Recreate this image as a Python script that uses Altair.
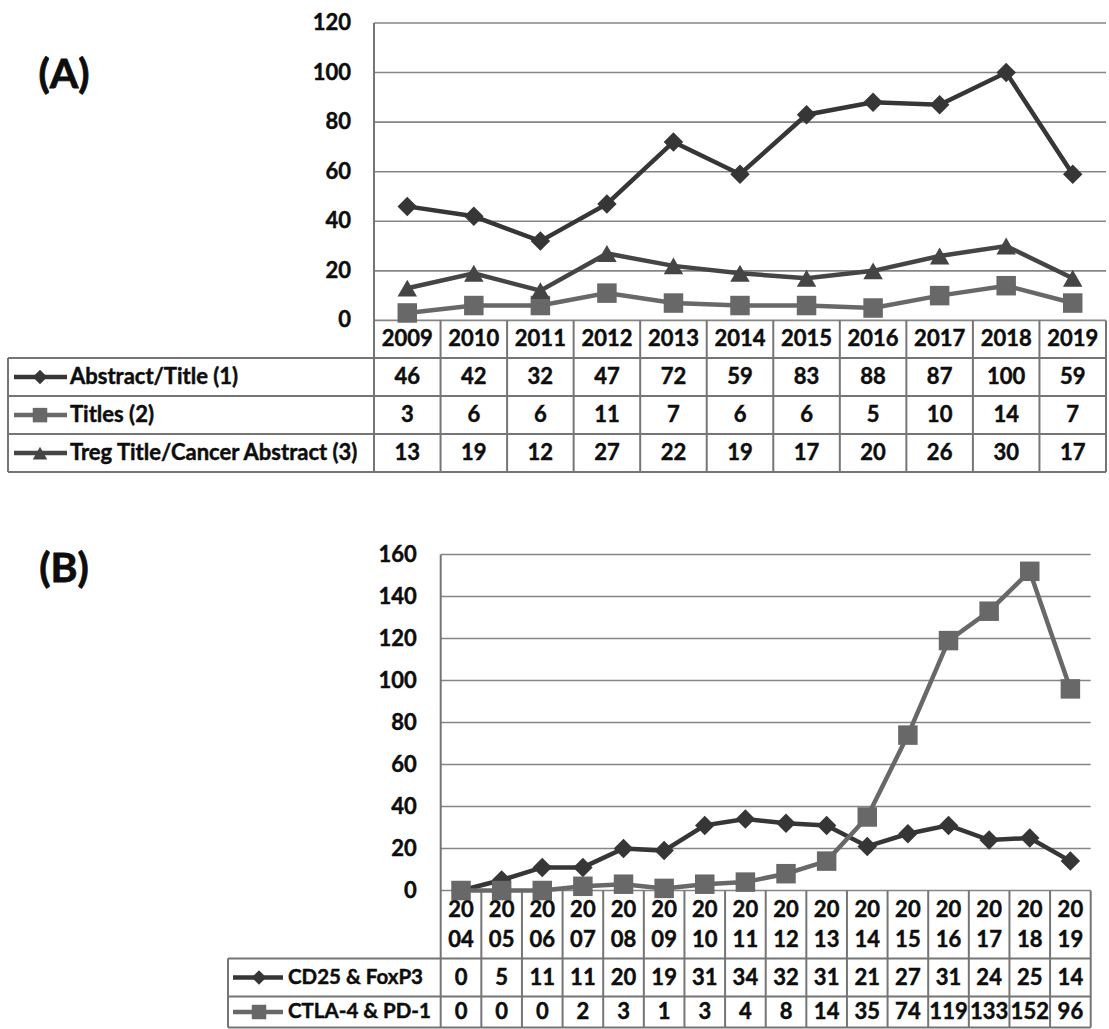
import altair as alt
import pandas as pd

# ---------------------------------------------------------------- data
a_years = ["2009", "2010", "2011", "2012", "2013", "2014",
           "2015", "2016", "2017", "2018", "2019"]
a_names = ["Abstract/Title (1)", "Titles (2)", "Treg Title/Cancer Abstract (3)"]
a_abstract_title = [46, 42, 32, 47, 72, 59, 83, 88, 87, 100, 59]
a_titles = [3, 6, 6, 11, 7, 6, 6, 5, 10, 14, 7]
a_treg_cancer = [13, 19, 12, 27, 22, 19, 17, 20, 26, 30, 17]
a_ticks = [0, 20, 40, 60, 80, 100, 120]

b_years = ["2004", "2005", "2006", "2007", "2008", "2009", "2010", "2011",
           "2012", "2013", "2014", "2015", "2016", "2017", "2018", "2019"]
b_names = ["CD25 & FoxP3", "CTLA-4 & PD-1"]
b_cd25_foxp3 = [0, 5, 11, 11, 20, 19, 31, 34, 32, 31, 21, 27, 31, 24, 25, 14]
b_ctla4_pd1 = [0, 0, 0, 2, 3, 1, 3, 4, 8, 14, 35, 74, 119, 133, 152, 96]
b_ticks = [0, 20, 40, 60, 80, 100, 120, 140, 160]

# ---------------------------------------------------------------- style
FONT = "Lato"
FSIZE = 22
INK = "#0d0d0d"
GRID = "#858585"
RULE = "#757575"
a_colors = ["#363636", "#686868", "#454545"]
a_shapes = ["diamond", "square", "triangle-up"]
b_colors = ["#363636", "#686868"]
b_shapes = ["diamond", "square"]

# pixel layout of each panel, measured from the panel's top-left corner
geo_a = dict(width=1098, plot_left=366, zero=297.4, rows=[37.7, 38, 38, 38],
             table_left=0, label_x=62, label_size=22, sym=(6, 59, 32),
             tick_gap=23, letter=(56, 53), two_line_years=False)
geo_b = dict(width=1082.7, plot_left=432.7, zero=336, rows=[68, 38, 31],
             table_left=220, label_x=280, label_size=20.5, sym=(225, 275, 251),
             tick_gap=24, letter=(56, 15), two_line_years=True)


def text_layer(df, **kw):
    # a thin outline in the text colour gives the heavy bold look
    base = dict(font=FONT, fontSize=FSIZE, fontWeight="bold", color=INK,
                stroke=INK, strokeWidth=0.45, baseline="middle")
    base.update(kw)
    return alt.Chart(df).mark_text(**base)


def panel(letter, years, names, series, ticks, colors, shapes, g):
    ncols = len(years)
    col_w = (g["width"] - g["plot_left"]) / ncols
    ppu = g["zero"] / ticks[-1]
    height = g["zero"] + sum(g["rows"])

    def ux(px):  # panel pixel -> column units
        return (px - g["plot_left"]) / col_w

    def uy(px):  # panel pixel -> value units
        return (g["zero"] - px) / ppu

    xs = alt.Scale(domain=[ux(0), ncols], nice=False, zero=False)
    ys = alt.Scale(domain=[uy(height), ticks[-1]], nice=False, zero=False)

    def X(f="x"):
        return alt.X(f, type="quantitative", scale=xs, axis=None)

    def Y(f="y"):
        return alt.Y(f, type="quantitative", scale=ys, axis=None)

    color = alt.Color("name:N", scale=alt.Scale(domain=names, range=colors),
                      legend=None)
    shape = alt.Shape("name:N", scale=alt.Scale(domain=names, range=shapes),
                      legend=None)

    # row boundaries of the data table (pixels)
    edges = [g["zero"]]
    for h in g["rows"]:
        edges.append(edges[-1] + h)
    centers = [(edges[k] + edges[k + 1]) / 2 for k in range(len(g["rows"]))]
    bottom = uy(edges[-1])
    left = ux(g["table_left"])

    # gridlines across the plot area
    grid = pd.DataFrame({"x": 0, "x2": ncols, "y": ticks, "y2": ticks})

    # table borders
    segs = [dict(x=0, x2=0, y=ticks[-1], y2=bottom)]
    segs += [dict(x=k, x2=k, y=0, y2=bottom) for k in range(1, ncols + 1)]
    segs.append(dict(x=left, x2=left, y=uy(edges[1]), y2=bottom))
    segs += [dict(x=left, x2=ncols, y=uy(e), y2=uy(e)) for e in edges[1:]]
    borders = pd.DataFrame(segs)

    rules = [
        alt.Chart(grid).mark_rule(color=GRID, strokeWidth=1.6).encode(
            x=X(), x2="x2", y=Y(), y2="y2"),
        alt.Chart(borders).mark_rule(color=RULE, strokeWidth=2).encode(
            x=X(), x2="x2", y=Y(), y2="y2"),
    ]

    # year header (two stacked lines when the columns are narrow)
    if g["two_line_years"]:
        yr_text = [y[:2] + "\n" + y[2:] for y in years]
        yr_dy = -15
    else:
        yr_text = list(years)
        yr_dy = 0
    hdr = pd.DataFrame({"x": [i + 0.5 for i in range(ncols)],
                        "y": uy(centers[0]), "t": yr_text})
    hdr_layer = text_layer(hdr, align="center", lineBreak="\n",
                           lineHeight=30, dy=yr_dy).encode(
        x=X(), y=Y(), text="t:N")

    # table values
    cells = []
    for j, vals in enumerate(series):
        for i, v in enumerate(vals):
            cells.append(dict(x=i + 0.5, y=uy(centers[j + 1]), t=str(v)))
    val_layer = text_layer(pd.DataFrame(cells), align="center").encode(
        x=X(), y=Y(), text="t:N")

    # row labels with their legend keys
    row_y = [uy(c) for c in centers[1:]]
    labels = pd.DataFrame({"x": ux(g["label_x"]), "y": row_y, "name": names})
    lab_layer = text_layer(labels, align="left",
                           fontSize=g["label_size"]).encode(
        x=X(), y=Y(), text="name:N")
    x0, x1, xm = g["sym"]
    keys = pd.DataFrame({"x": ux(x0), "x2": ux(x1), "xm": ux(xm),
                         "y": row_y, "name": names})
    key_line = alt.Chart(keys).mark_rule(strokeWidth=4.5).encode(
        x=X(), x2="x2", y=Y(), color=color)
    key_pt = alt.Chart(keys).mark_point(filled=True, opacity=1, size=210).encode(
        x=X("xm"), y=Y(), color=color, shape=shape)

    # value-axis labels
    tick_df = pd.DataFrame({"x": 0, "y": ticks, "t": [str(t) for t in ticks]})
    tick_layer = text_layer(tick_df, align="right", dx=-g["tick_gap"]).encode(
        x=X(), y=Y(), text="t:N")

    # the series
    pts = []
    for j, vals in enumerate(series):
        for i, v in enumerate(vals):
            pts.append(dict(x=i + 0.5, y=v, name=names[j], year=years[i]))
    pts = pd.DataFrame(pts)
    lines = alt.Chart(pts).mark_line(strokeWidth=4.5).encode(
        x=X(), y=Y(), color=color, order="x:Q")
    marks = alt.Chart(pts).mark_point(filled=True, opacity=1, size=380).encode(
        x=X(), y=Y(), color=color, shape=shape)

    tag = text_layer(pd.DataFrame({"t": [letter]}), align="center",
                     fontSize=41, strokeWidth=0.8).encode(
        x=alt.value(g["letter"][0]), y=alt.value(g["letter"][1]), text="t:N")

    return alt.layer(*rules, hdr_layer, val_layer, lab_layer, key_line, key_pt,
                     tick_layer, lines, marks, tag).properties(
        width=g["width"], height=height)


panel_a = panel("(A)", a_years, a_names,
                [a_abstract_title, a_titles, a_treg_cancer],
                a_ticks, a_colors, a_shapes, geo_a)
panel_b = panel("(B)", b_years, b_names, [b_cd25_foxp3, b_ctla4_pd1],
                b_ticks, b_colors, b_shapes, geo_b)

chart = alt.vconcat(panel_a, panel_b, spacing=81.5, bounds="flush").properties(
    padding={"left": 7, "top": 12, "right": 0, "bottom": 0},
    background="white",
).configure_view(strokeWidth=0)

chart.save("out.html", embed_options={"renderer": "svg", "actions": False})
